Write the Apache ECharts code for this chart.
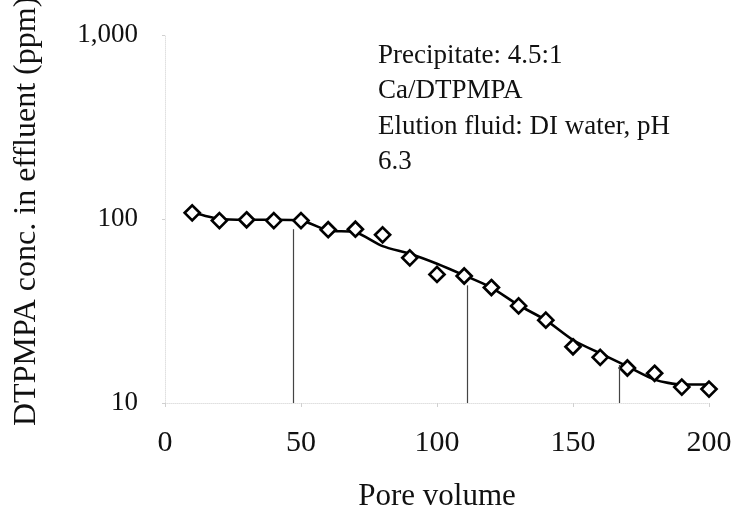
<!DOCTYPE html>
<html>
<head>
<meta charset="utf-8">
<script src="https://cdn.jsdelivr.net/npm/echarts@6/dist/echarts.min.js"></script>
<style>
  html, body { margin: 0; padding: 0; background: #fff; }
  #chart { width: 737px; height: 517px; }
</style>
</head>
<body>
<div id="chart"></div>
<script>
// Pore volumes sampled and DTPMPA concentration measured in the effluent (ppm)
const poreVolume = [10, 20, 30, 40, 50, 60, 70, 80, 90, 100, 110, 120, 130, 140, 150, 160, 170, 180, 190, 200];
const measured   = [108, 98, 99, 98, 98, 87.5, 88, 82, 61.5, 50, 49, 42.4, 33.7, 28.2, 20.2, 17.7, 15.5, 14.5, 12.2, 11.9];
// Model curve through the elution data
const fitted     = [108.7, 100, 99, 99, 98, 86.5, 84.7, 71.2, 64.7, 57.1, 49.4, 42.4, 34, 28.2, 22, 18.6, 15.8, 13.4, 12.6, 12.6];
// Vertical drop lines (pore volume, top concentration)
const dropX   = [47, 111, 167];
const dropTop = [88, 43.6, 16.1];
// Axis ranges
const xTicks = [0, 50, 100, 150, 200];
const yRange = [10, 1000];

const noteLines = ['Precipitate: 4.5:1', 'Ca/DTPMPA', 'Elution fluid: DI water, pH', '6.3'];
const yTitle = 'DTPMPA conc. in effluent (ppm)';
const xTitle = 'Pore volume';

const serif = "'Liberation Serif', 'Times New Roman', serif";
const chart = echarts.init(document.getElementById('chart'), null, { renderer: 'canvas' });

const pts = poreVolume.map((x, i) => [x, measured[i]]);
const curve = poreVolume.map((x, i) => [x, fitted[i]]);
const drops = dropX.map((x, i) => [{ coord: [x, yRange[0]] }, { coord: [x, dropTop[i]] }]);

chart.setOption({
  animation: false,
  backgroundColor: '#ffffff',
  grid: { left: 165, right: 28, top: 35, bottom: 112, containLabel: false },
  xAxis: {
    type: 'value',
    min: xTicks[0],
    max: xTicks[xTicks.length - 1],
    interval: 50,
    name: xTitle,
    nameLocation: 'middle',
    nameGap: 78,
    nameTextStyle: { fontFamily: serif, fontSize: 31, color: '#111' },
    axisLine: { show: true, lineStyle: { color: '#e0e0e0', width: 1, type: 'dotted' } },
    axisTick: { show: true, length: 4, lineStyle: { color: '#d0d0d0' } },
    splitLine: { show: false },
    axisLabel: { fontFamily: serif, fontSize: 30, color: '#111', margin: 25 }
  },
  yAxis: {
    type: 'log',
    logBase: 10,
    min: yRange[0],
    max: yRange[1],
    axisLine: { show: true, lineStyle: { color: '#e0e0e0', width: 1, type: 'dotted' } },
    axisTick: { show: true, length: 3, lineStyle: { color: '#d0d0d0' } },
    minorTick: { show: false },
    splitLine: { show: false },
    axisLabel: {
      fontFamily: serif, fontSize: 27, color: '#111', margin: 27,
      padding: [0, 0, 14, 0],
      formatter: v => Number(v).toLocaleString('en-US')
    }
  },
  graphic: [
    {
      type: 'text',
      x: 378, y: 38,
      style: {
        text: noteLines.join('\n'),
        fontFamily: serif, fontSize: 27, lineHeight: 35.5,
        fill: '#111', align: 'left', verticalAlign: 'top'
      }
    },
    {
      type: 'text',
      x: 27, y: 426,
      rotation: Math.PI / 2,
      style: {
        text: yTitle,
        fontFamily: serif, fontSize: 32,
        fill: '#111', align: 'left', verticalAlign: 'middle'
      }
    }
  ],
  series: [
    {
      type: 'line',
      data: curve,
      smooth: 0.25,
      symbol: 'none',
      lineStyle: { color: '#000', width: 2.6 },
      z: 2,
      markLine: {
        silent: true,
        symbol: 'none',
        label: { show: false },
        lineStyle: { color: '#444', width: 1.2, type: 'solid' },
        data: drops
      }
    },
    {
      type: 'scatter',
      data: pts,
      symbol: 'diamond',
      symbolSize: 15,
      itemStyle: { color: '#ffffff', borderColor: '#000', borderWidth: 2.7, opacity: 1 },
      z: 3
    }
  ]
});
</script>
</body>
</html>
